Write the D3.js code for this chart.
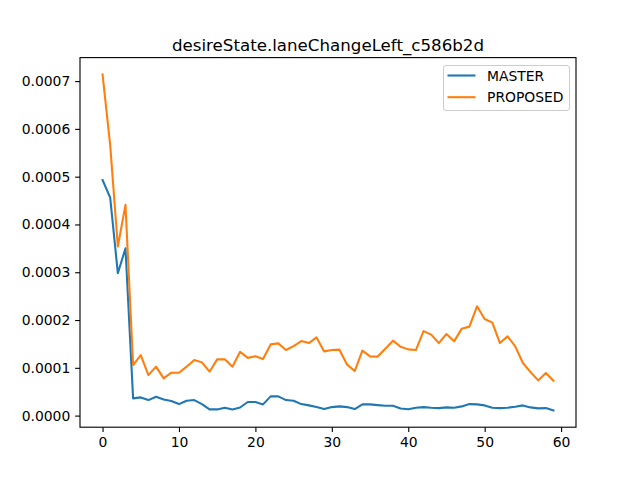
<!DOCTYPE html>
<html><head><meta charset="utf-8">
<script src="https://cdn.jsdelivr.net/npm/d3@7"></script>
<style>body{margin:0;background:#fff}svg{display:block}text{font-family:"DejaVu Sans",sans-serif}</style>
</head><body>
<script>
const title = "desireState.laneChangeLeft_c586b2d";
const seriesNames = ["MASTER", "PROPOSED"];
const seriesColors = ["#1f77b4", "#ff7f0e"];
const master = [0.000493,0.000456,0.000298,0.000350,0.0000360,0.0000381,0.0000325,0.0000396,0.0000339,0.0000304,
0.0000241,0.0000312,0.0000325,0.0000241,0.0000130,0.0000130,0.0000165,0.0000130,0.0000170,0.0000285,
0.0000283,0.0000235,0.0000402,0.0000402,0.0000325,0.0000312,0.0000241,0.0000214,0.0000178,0.0000136,
0.0000178,0.0000193,0.0000178,0.0000136,0.0000235,0.0000235,0.0000220,0.0000207,0.0000207,0.0000150,
0.0000133,0.0000165,0.0000178,0.0000165,0.0000157,0.0000172,0.0000165,0.0000193,0.0000241,0.0000235,
0.0000214,0.0000165,0.0000157,0.0000165,0.0000186,0.0000214,0.0000172,0.0000151,0.0000157,0.0000109];
const proposed = [0.000714,0.000566,0.000354,0.000441,0.0001057,0.0001267,0.0000848,0.0001024,0.0000779,0.0000898,
0.0000898,0.0001024,0.0001162,0.0001114,0.0000919,0.0001177,0.0001177,0.0001024,0.0001335,0.0001208,
0.0001240,0.0001183,0.0001490,0.0001512,0.0001372,0.0001455,0.0001560,0.0001518,0.0001637,0.0001344,
0.0001372,0.0001380,0.0001066,0.0000932,0.0001359,0.0001240,0.0001235,0.0001400,0.0001568,0.0001440,
0.0001386,0.0001372,0.0001769,0.0001694,0.0001518,0.0001707,0.0001554,0.0001820,0.0001862,0.0002287,
0.0002021,0.0001945,0.0001518,0.0001658,0.0001449,0.0001100,0.0000911,0.0000737,0.0000890,0.0000731];
const xTicks = [0,10,20,30,40,50,60];
const yTicks = [0,0.0001,0.0002,0.0003,0.0004,0.0005,0.0006,0.0007];

const W=640,H=480, L=80, R=576, T=57.6, B=427.2;
const svg = d3.select("body").append("svg").attr("width",W).attr("height",H);
const series=[master,proposed];
const n=master.length;
const allV=master.concat(proposed);
const ymin=d3.min(allV), ymax=d3.max(allV);
const xpad=(n-1)*0.05, ypad=(ymax-ymin)*0.05;
const x=d3.scaleLinear().domain([-xpad,n-1+xpad]).range([L,R]);
const y=d3.scaleLinear().domain([ymin-ypad,ymax+ypad]).range([B,T]);

const fs=13.9;
const xa=svg.append("g").attr("transform",`translate(0,${B})`)
 .call(d3.axisBottom(x).tickValues(xTicks).tickSize(4.86).tickPadding(4.86).tickFormat(d3.format("d")));
const ya=svg.append("g").attr("transform",`translate(${L},0)`)
 .call(d3.axisLeft(y).tickValues(yTicks).tickSize(4.86).tickPadding(4.86).tickFormat(d=>d.toFixed(4)));
[xa,ya].forEach(a=>{a.select(".domain").remove();a.selectAll("line").attr("stroke","#000").attr("stroke-width",1.11);
 a.selectAll("text").attr("font-size",fs).attr("fill","#000").attr("font-family","DejaVu Sans");});

const line=d3.line().x((d,i)=>x(i)).y(d=>y(d));
series.forEach((s,k)=>svg.append("path").datum(s).attr("d",line).attr("fill","none")
 .attr("stroke",seriesColors[k]).attr("stroke-width",2.08).attr("stroke-linejoin","round").attr("stroke-linecap","square"));

svg.append("rect").attr("x",L).attr("y",T).attr("width",R-L).attr("height",B-T)
 .attr("fill","none").attr("stroke","#000").attr("stroke-width",1.11);

svg.append("text").attr("x",(L+R)/2).attr("y",T-7).attr("text-anchor","middle")
 .attr("font-size",16.67).text(title);

const lg=svg.append("g");
lg.append("rect").attr("x",443.5).attr("y",65.5).attr("width",126).attr("height",45).attr("rx",2.5)
 .attr("fill","#fff").attr("fill-opacity",0.8).attr("stroke","#cccccc").attr("stroke-width",1);
seriesNames.forEach((nm,k)=>{
 const yy=75.5+k*21.7;
 lg.append("line").attr("x1",447.5).attr("x2",475.5).attr("y1",yy).attr("y2",yy)
  .attr("stroke",seriesColors[k]).attr("stroke-width",2.08);
 lg.append("text").attr("x",487).attr("y",yy).attr("dy","0.36em").attr("font-size",fs).text(nm);
});
</script>
</body></html>
